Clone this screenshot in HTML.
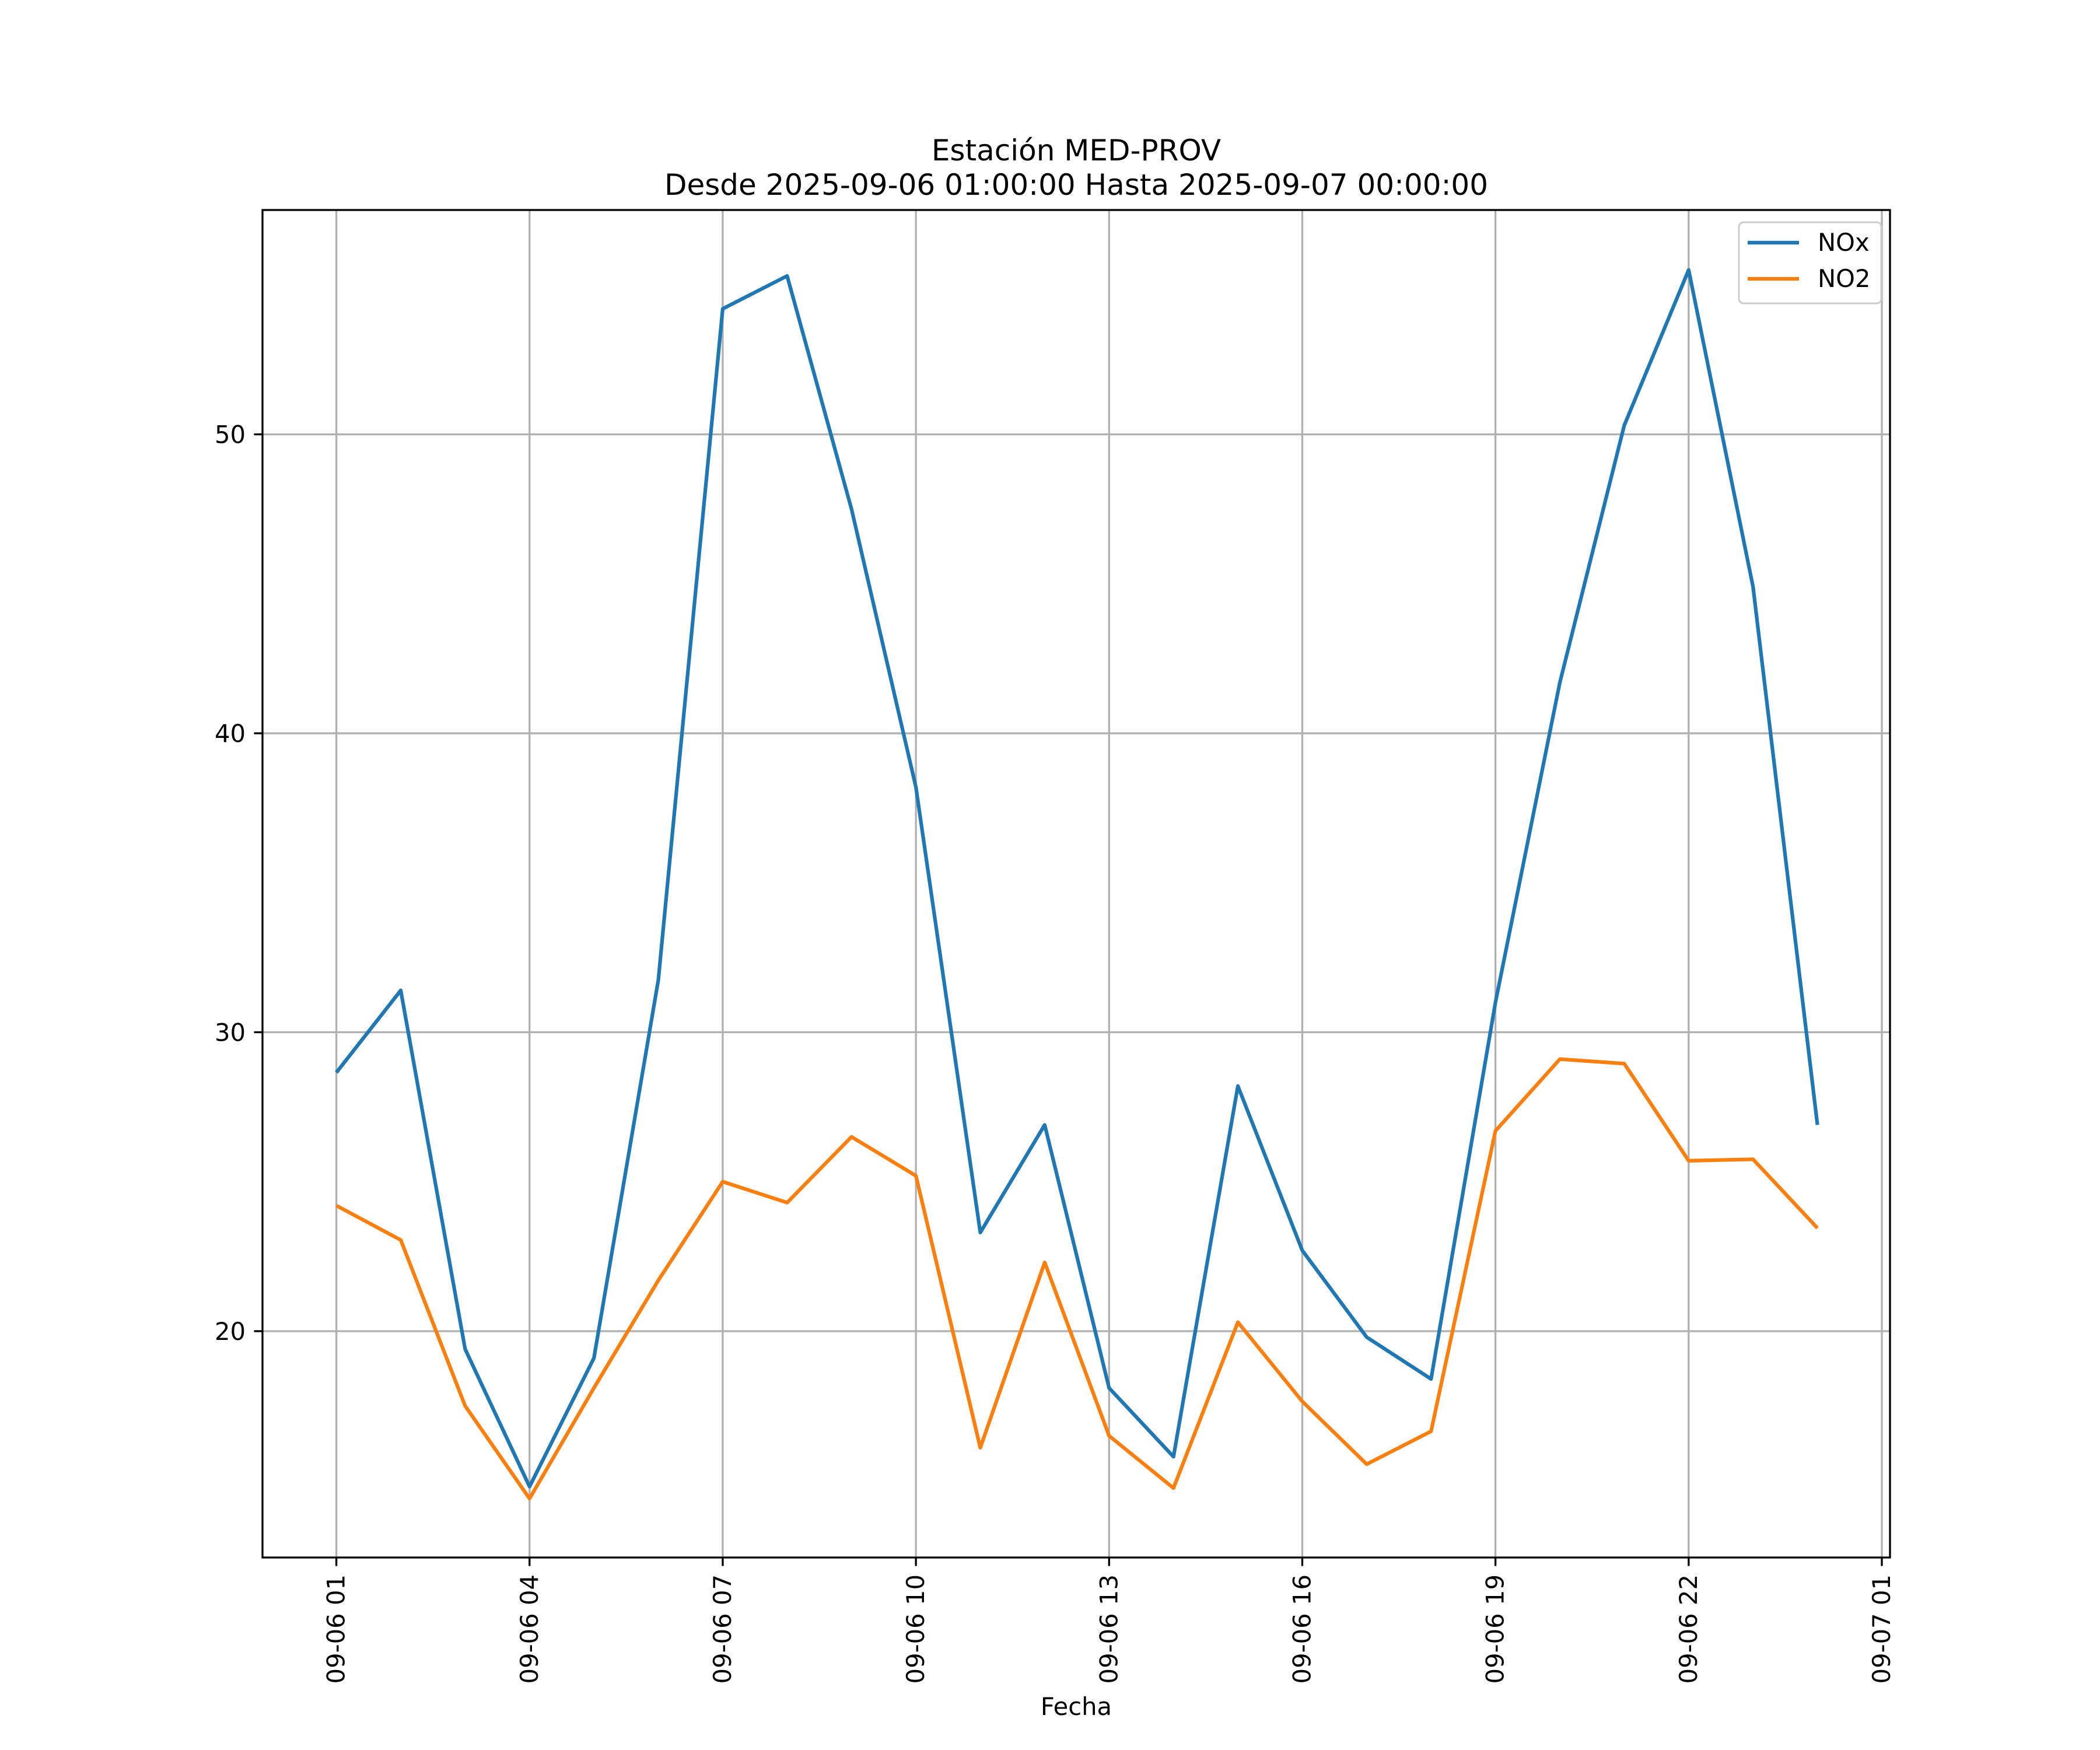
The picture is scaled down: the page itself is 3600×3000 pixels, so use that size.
<!DOCTYPE html>
<html><head><meta charset="utf-8"><style>
html,body{margin:0;padding:0;background:#fff;}
svg{display:block;font-family:"DejaVu Sans","Liberation Sans",sans-serif;}
</style></head><body>
<svg id="chart" width="3600" height="3000" viewBox="0 0 3600 3000" xmlns="http://www.w3.org/2000/svg">
<rect width="3600" height="3000" fill="#fff"/>
<g id="grid"></g>
<g id="series"></g>
<g id="axes"></g>
<text x="1845" y="275" font-size="50" text-anchor="middle">Estación MED-PROV</text>
<text x="1845" y="334" font-size="50" text-anchor="middle">Desde 2025-09-06 01:00:00 Hasta 2025-09-07 00:00:00</text>
<text x="1845" y="2940" font-size="41.7" text-anchor="middle">Fecha</text>
<g>
<rect x="2981" y="381" width="244" height="139" rx="8" fill="#fff" fill-opacity="0.8" stroke="#ccc" stroke-width="3"/>
<line x1="2996" y1="416" x2="3084" y2="416" stroke="#1f77b4" stroke-width="6.25"/>
<text x="3116" y="430" font-size="41.7">NOx</text>
<line x1="2996" y1="478" x2="3084" y2="478" stroke="#ff7f0e" stroke-width="6.25"/>
<text x="3116" y="492" font-size="41.7">NO2</text>
</g>
</svg>
<script>
const hours = [1,2,3,4,5,6,7,8,9,10,11,12,13,14,15,16,17,18,19,20,21,22,23,24];
const noxValues = [28.65,31.4,19.4,14.8,19.1,31.75,54.2,55.3,47.5,38.2,23.3,26.9,18.1,15.8,28.2,22.7,19.8,18.4,31.0,41.7,50.3,55.5,44.9,26.9];
const no2Values = [24.2,23.05,17.5,14.4,18.1,21.7,25.0,24.3,26.5,25.2,16.1,22.3,16.5,14.75,20.3,17.65,15.55,16.65,26.7,29.1,28.95,25.7,25.75,23.45];
const yTicks = [20,30,40,50];
const xTickHours = [1,4,7,10,13,16,19,22,25];
const xTickLabels = ["09-06 01","09-06 04","09-06 07","09-06 10","09-06 13","09-06 16","09-06 19","09-06 22","09-07 01"];

const L=450,R=3240,T=360,B=2670;
const NS="http://www.w3.org/2000/svg";
function xs(h){return 576.6+(h-1)*(3226-576.6)/24;}
function ys(v){return 2282-(v-20)*(2282-744.6)/30;}
function mk(tag,attrs,parent){const e=document.createElementNS(NS,tag);for(const k in attrs)e.setAttribute(k,attrs[k]);parent.appendChild(e);return e;}
const grid=document.getElementById('grid'),axes=document.getElementById('axes'),series=document.getElementById('series');

xTickHours.forEach((h,i)=>{
  const x=xs(h);
  const g=mk('line',{x1:x,x2:x,y1:T,y2:B,stroke:'#b0b0b0','stroke-width':3.3},grid);
  
  
  const t=mk('line',{x1:x,x2:x,y1:B,y2:B+14.6,stroke:'#000','stroke-width':3.3},axes);
  
  
  const lb=mk('text',{x:0,y:0,'font-size':41.7,'text-anchor':'end',transform:`translate(${x+14},${B+29}) rotate(-90)`},axes);
  lb.textContent=xTickLabels[i];
  
  
});
yTicks.forEach(v=>{
  const y=ys(v);
  const g=mk('line',{x1:L,x2:R,y1:y,y2:y,stroke:'#b0b0b0','stroke-width':3.3},grid);
  
  
  const t=mk('line',{x1:L-14.6,x2:L,y1:y,y2:y,stroke:'#000','stroke-width':3.3},axes);
  
  
  const lb=mk('text',{x:L-29,y:y+15,'font-size':41.7,'text-anchor':'end'},axes);
  lb.textContent=v;
  
  
});
const frame=mk('rect',{x:L,y:T,width:R-L,height:B-T,fill:'none',stroke:'#000','stroke-width':3.3},axes);



const nox=mk('polyline',{points:hours.map((h,i)=>xs(h)+','+ys(noxValues[i])).join(' '),fill:'none',stroke:'#1f77b4','stroke-width':6.25,'stroke-linejoin':'round'},series);


const no2=mk('polyline',{points:hours.map((h,i)=>xs(h)+','+ys(no2Values[i])).join(' '),fill:'none',stroke:'#ff7f0e','stroke-width':6.25,'stroke-linejoin':'round'},series);


</script>
</body></html>
